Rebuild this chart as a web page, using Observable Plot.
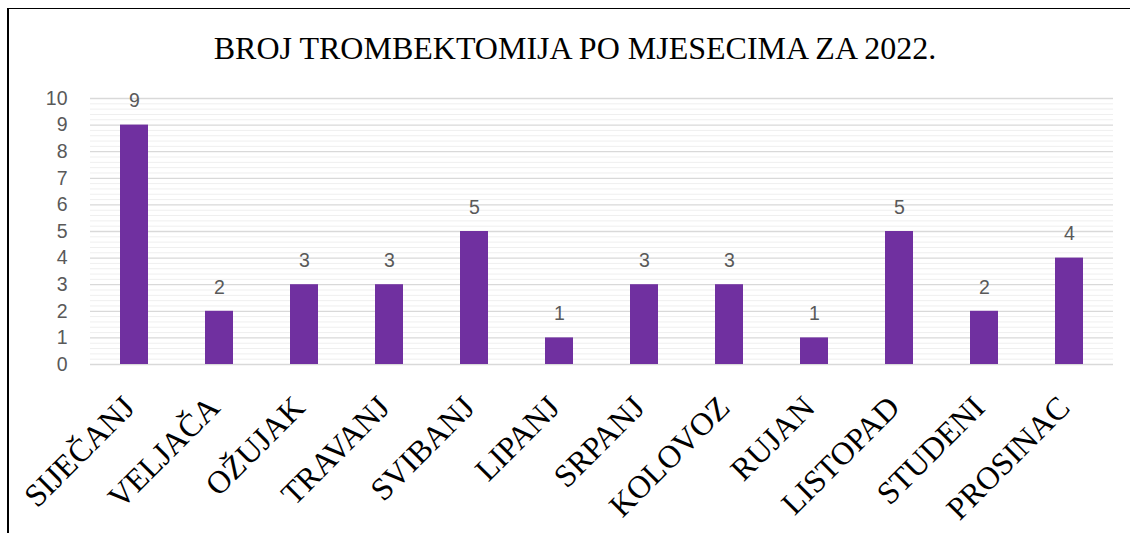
<!DOCTYPE html>
<html><head><meta charset="utf-8">
<script src="https://cdn.jsdelivr.net/npm/d3@7"></script>
<script src="https://cdn.jsdelivr.net/npm/@observablehq/plot@0.6"></script>
<style>
html,body{margin:0;padding:0;background:#fff;}
#wrap{position:relative;width:1130px;height:533px;overflow:hidden;}
#frame{position:absolute;left:7px;top:8px;right:-10px;bottom:-10px;border-left:2px solid #000;border-top:1.5px solid #000;z-index:2;}
#wrap svg{position:absolute;left:0;top:0;}
</style></head><body><div id="wrap"><div id="frame"></div></div>
<script>
const title = "BROJ TROMBEKTOMIJA PO MJESECIMA ZA 2022.";
const months = ["SIJEČANJ","VELJAČA","OŽUJAK","TRAVANJ","SVIBANJ","LIPANJ","SRPANJ","KOLOVOZ","RUJAN","LISTOPAD","STUDENI","PROSINAC"];
const counts = [9,2,3,3,5,1,3,3,1,5,2,4];
const yTicks = [0,1,2,3,4,5,6,7,8,9,10];

const data = months.map((m, i) => ({month: m, count: counts[i]}));
const minorTicks = d3.range(0, 51).map(i => i / 5).filter(v => !Number.isInteger(v));

const chart = Plot.plot({
  width: 1130,
  height: 533,
  marginLeft: 90,
  marginRight: 17,
  marginTop: 98,
  marginBottom: 169,
  style: {background: "transparent"},
  x: {domain: months, paddingInner: 0.67, paddingOuter: 0.335, axis: null},
  y: {domain: [0, 10], axis: null},
  marks: [
    Plot.ruleY(minorTicks, {stroke: "#efefef", strokeWidth: 1}),
    Plot.ruleY(yTicks, {stroke: "#d9d9d9", strokeWidth: 1.3}),
    Plot.axisY(yTicks, {label: null, tickSize: 0, tickPadding: 23, fontSize: 19.5, fill: "#595959", fontFamily: "Liberation Sans, Arial, sans-serif"}),
    Plot.barY(data, {x: "month", y: "count", fill: "#7030A0"}),
    Plot.text(data, {x: "month", y: "count", text: d => String(d.count), dy: -24, lineAnchor: "middle", fontSize: 19.5, fill: "#595959", fontFamily: "Liberation Sans, Arial, sans-serif"}),
    Plot.text(data, {x: "month", text: "month", frameAnchor: "bottom", rotate: -45, textAnchor: "end", lineAnchor: "bottom", dx: 2, dy: 45, fontSize: 32, fill: "#000", fontFamily: "Liberation Serif, Times New Roman, serif"}),
    Plot.text([title], {text: d => d, frameAnchor: "top", lineAnchor: "bottom", dx: -27, dy: -40, fontSize: 32, fill: "#000", fontFamily: "Liberation Serif, Times New Roman, serif"})
  ]
});
document.getElementById("wrap").appendChild(chart);
</script>
</body></html>
